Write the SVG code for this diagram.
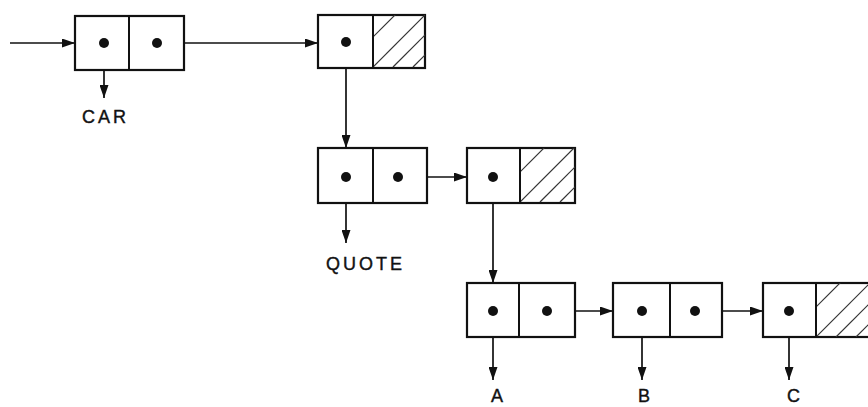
<svg xmlns="http://www.w3.org/2000/svg" width="868" height="407" viewBox="0 0 868 407">
<style>
.box{fill:#fff;stroke:#111;stroke-width:2.2}
.div{stroke:#111;stroke-width:2}
.dot{fill:#111}
.ln{stroke:#111;stroke-width:1.7;fill:none}
.hatch{stroke:#333;stroke-width:1.2}
.lbl{font-family:"Liberation Sans",Arial,sans-serif;font-size:18px;letter-spacing:3px;fill:#111;stroke:#111;stroke-width:0.4}
</style>
<defs>
<marker id="ah" viewBox="0 0 13 9" refX="13" refY="4.5" markerWidth="13" markerHeight="9" markerUnits="userSpaceOnUse" orient="auto">
<path d="M0,0 L13,4.5 L0,9 Z" fill="#111"/>
</marker>
<clipPath id="c2"><rect x="373" y="15" width="52" height="53"/></clipPath>
<clipPath id="c4"><rect x="520" y="148" width="55" height="55"/></clipPath>
<clipPath id="c7"><rect x="816" y="283" width="52" height="54"/></clipPath>
</defs>
<g id="connectors">
<line class="ln" x1="10" y1="43" x2="75" y2="43" marker-end="url(#ah)"/>
<line class="ln" x1="104" y1="43" x2="104" y2="98" marker-end="url(#ah)"/>
<line class="ln" x1="157" y1="43" x2="318" y2="43" marker-end="url(#ah)"/>
<line class="ln" x1="346" y1="42" x2="346" y2="148" marker-end="url(#ah)"/>
<line class="ln" x1="346" y1="177" x2="346" y2="243" marker-end="url(#ah)"/>
<line class="ln" x1="398" y1="177" x2="467" y2="177" marker-end="url(#ah)"/>
<line class="ln" x1="493" y1="177" x2="493" y2="283" marker-end="url(#ah)"/>
<line class="ln" x1="493" y1="311" x2="493" y2="380" marker-end="url(#ah)"/>
<line class="ln" x1="547" y1="311" x2="613" y2="311" marker-end="url(#ah)"/>
<line class="ln" x1="642" y1="311" x2="642" y2="380" marker-end="url(#ah)"/>
<line class="ln" x1="695" y1="311" x2="763" y2="311" marker-end="url(#ah)"/>
<line class="ln" x1="789" y1="311" x2="789" y2="380" marker-end="url(#ah)"/>
</g>
<g id="cell1">
<rect class="box" x="75" y="16" width="109" height="54"/>
<line class="div" x1="129" y1="16" x2="129" y2="70"/>
<circle class="dot" cx="104" cy="43" r="5"/>
<circle class="dot" cx="157" cy="43" r="5"/>
</g>
<g id="cell2">
<rect class="box" x="318" y="15" width="107" height="53"/>
<g clip-path="url(#c2)">
<line class="hatch" x1="353" y1="57" x2="403" y2="7"/>
<line class="hatch" x1="373" y1="67" x2="428" y2="12"/>
<line class="hatch" x1="393" y1="67" x2="448" y2="12"/>
<line class="hatch" x1="413" y1="67" x2="468" y2="12"/>
</g>
<line class="div" x1="373" y1="15" x2="373" y2="68"/>
<circle class="dot" cx="346" cy="42" r="5"/>
</g>
<g id="cell3">
<rect class="box" x="318" y="148" width="109" height="55"/>
<line class="div" x1="373" y1="148" x2="373" y2="203"/>
<circle class="dot" cx="346" cy="177" r="5"/>
<circle class="dot" cx="398" cy="177" r="5"/>
</g>
<g id="cell4">
<rect class="box" x="467" y="148" width="108" height="55"/>
<g clip-path="url(#c4)">
<line class="hatch" x1="500" y1="192" x2="550" y2="142"/>
<line class="hatch" x1="520" y1="202" x2="580" y2="142"/>
<line class="hatch" x1="540" y1="202" x2="600" y2="142"/>
<line class="hatch" x1="560" y1="202" x2="620" y2="142"/>
</g>
<line class="div" x1="520" y1="148" x2="520" y2="203"/>
<circle class="dot" cx="493" cy="177" r="5"/>
</g>
<g id="cell5">
<rect class="box" x="467" y="283" width="108" height="54"/>
<line class="div" x1="519" y1="283" x2="519" y2="337"/>
<circle class="dot" cx="493" cy="311" r="5"/>
<circle class="dot" cx="547" cy="311" r="5"/>
</g>
<g id="cell6">
<rect class="box" x="613" y="283" width="109" height="54"/>
<line class="div" x1="670" y1="283" x2="670" y2="337"/>
<circle class="dot" cx="642" cy="311" r="5"/>
<circle class="dot" cx="695" cy="311" r="5"/>
</g>
<g id="cell7">
<rect class="box" x="763" y="283" width="110" height="54"/>
<g clip-path="url(#c7)">
<line class="hatch" x1="796" y1="327" x2="846" y2="277"/>
<line class="hatch" x1="816" y1="337" x2="876" y2="277"/>
<line class="hatch" x1="836" y1="337" x2="896" y2="277"/>
<line class="hatch" x1="856" y1="337" x2="916" y2="277"/>
</g>
<line class="div" x1="816" y1="283" x2="816" y2="337"/>
<circle class="dot" cx="789" cy="311" r="5"/>
</g>
<g id="labels">
<text class="lbl" x="82" y="123">CAR</text>
<text class="lbl" x="326" y="270">QUOTE</text>
<text class="lbl" x="491" y="402">A</text>
<text class="lbl" x="638" y="402">B</text>
<text class="lbl" x="787" y="402">C</text>
</g>
</svg>
